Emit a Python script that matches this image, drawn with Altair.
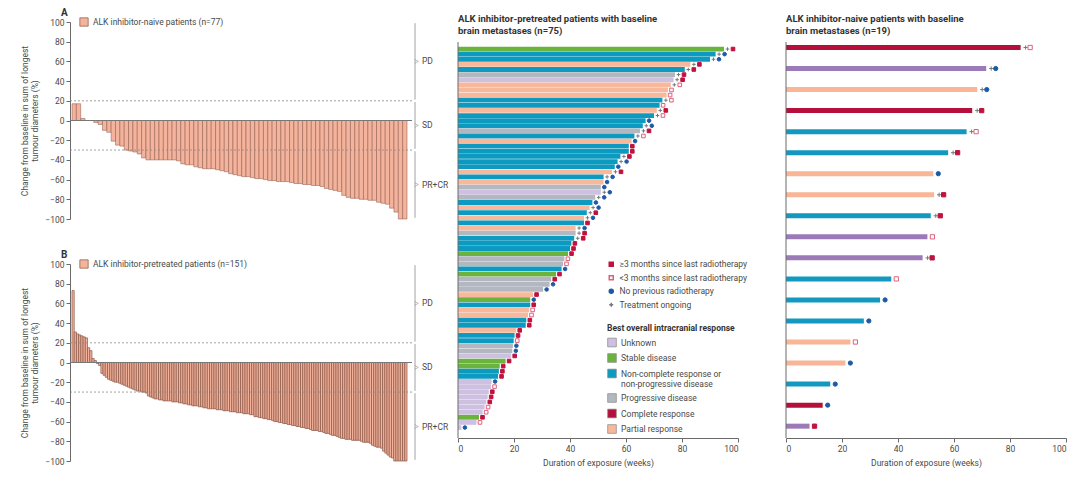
import altair as alt
import pandas as pd

FONT = "Roboto, Liberation Sans, sans-serif"

# ---------------- data ----------------
a_label = "ALK inhibitor-naive patients (n=77)"
a_values = [17, 17, 2, 0, 0, -2, -4, -10, -12, -21,
            -25, -26, -30, -31, -32, -34, -38,
            -40, -40, -40, -40, -40, -40, -40, -41,
            -44, -45, -45, -47,
            -48, -49, -49, -49, -50,
            -51, -52, -54, -55,
            -56, -57, -57,
            -58, -59, -59, -60,
            -61, -61,
            -62, -62, -62, -63,
            -64, -64,
            -65, -65, -66, -66, -67,
            -69, -70, -71, -72,
            -76, -78, -79, -79,
            -80, -80, -81, -81,
            -83, -84,
            -85, -89, -93, -100, -100]

b_label = "ALK inhibitor-pretreated patients (n=151)"
b_values = [73, 31, 29, 28, 27, 26, 25, 15, 12, 4,
            2, -1, -3, -11, -13, -15, -17, -18, -19, -20,
            -20, -21, -22, -23, -24, -25, -26, -27, -28, -29,
            -29, -30, -30, -31, -34, -35, -36, -37, -37, -38,
            -38, -39, -39, -39, -39, -40, -40, -40, -41, -41,
            -42, -42, -43, -43, -44, -44, -44, -45, -45, -46,
            -46, -47, -47, -47, -47, -48, -48, -48, -49, -49,
            -49, -50, -50, -50, -51, -51, -51, -52, -52, -52,
            -53, -53, -55, -55, -56, -56, -57, -57, -58, -58,
            -59, -60, -60, -61, -61, -62, -62, -63, -63, -64,
            -64, -65, -65, -66, -66, -67, -67, -68, -69, -69,
            -69, -70, -70, -71, -72, -72, -73, -74, -74, -75,
            -76, -77, -77, -78, -78, -78, -79, -79, -79, -79,
            -80, -81, -81, -81, -82, -84, -85, -86, -86, -87,
            -90, -92, -94, -96, -97, -100, -100, -100, -100, -100, -100]

zone_names = ["PD", "SD", "PR+CR"]
zone_top = [100, 20, -30]
zone_bottom = [20, -30, -100]
thresholds = [20, -30]
baseline = [0]
y_ticks = [-100, -80, -60, -40, -20, 0, 20, 40, 60, 80, 100]

mid_title = ["ALK inhibitor-pretreated patients with baseline", "brain metastases (n=75)"]
mid_dur = [95, 92, 90, 83, 81, 77.5, 77, 76, 75, 74.5,
           73, 72, 71, 70, 67, 66, 65, 63, 62, 61,
           61, 58, 57, 56, 55, 52, 52, 51, 51, 49,
           48, 47, 46, 45, 45, 42, 42, 41.5, 40.5, 40,
           39.3, 38, 37.5, 37, 35, 33.3, 32.7, 30.4, 26.8, 25.8,
           25.8, 25.4, 25, 24.4, 24.2, 20.8, 20.2, 19.9, 19.6, 19.4,
           19, 17, 14.9, 14.6, 14.3, 12, 11.8, 11, 10.6, 10.1,
           9.5, 8.8, 7.5, 6.6, 1.2]
mid_resp = ["SD", "NC", "NC", "PR", "NC", "PD", "U", "PR", "PR", "PR",
            "NC", "NC", "PR", "NC", "NC", "NC", "PD", "NC", "PR", "NC",
            "NC", "NC", "NC", "NC", "PR", "NC", "PR", "PD", "U", "PD",
            "NC", "PR", "NC", "PR", "NC", "PR", "PD", "NC", "NC", "NC",
            "SD", "PD", "PD", "NC", "SD", "PD", "PD", "PD", "PR", "SD",
            "NC", "PR", "PR", "NC", "NC", "PR", "NC", "NC", "PD", "PD",
            "U", "SD", "SD", "NC", "NC", "U", "U", "U", "U", "U",
            "U", "U", "SD", "U", "U"]
mid_mark = ["R3", "N", "N", "R3", "R3", "R3", "R3", "O", "O", "O",
            "O", "O", "R3", "O", "N", "N", "R3", "O", "N", "R3",
            "R3", "R3", "N", "N", "R3", "N", "N", "N", "N", "N",
            "N", "N", "R3", "N", "R3", "N", "R3", "R3", "R3", "R3",
            "R3", "O", "O", "N", "R3", "R3", "N", "N", "R3", "N",
            "R3", "O", "O", "R3", "R3", "R3", "R3", "O", "N", "N",
            "R3", "R3", "R3", "R3", "R3", "N", "O", "R3", "R3", "R3",
            "O", "O", "R3", "O", "N"]
mid_ongoing = [1, 1, 1, 1, 1, 1, 1, 1, 0, 0,
               1, 0, 1, 1, 0, 1, 1, 1, 0, 0,
               0, 1, 1, 0, 1, 1, 0, 0, 1, 1,
               0, 1, 1, 1, 0, 1, 1, 1, 0, 0,
               0, 0, 0, 0, 0, 0, 0, 0, 0, 0,
               0, 0, 0, 0, 0, 0, 0, 0, 0, 0,
               0, 0, 0, 0, 0, 0, 0, 0, 0, 0,
               0, 0, 0, 0, 0]

right_title = ["ALK inhibitor-naive patients with baseline", "brain metastases (n=19)"]
right_dur = [83.8, 71.5, 68.3, 66.5, 64.5, 57.9, 52.6, 52.9, 51.7, 50.5,
             48.8, 37.6, 33.6, 27.8, 23, 21.2, 15.8, 13.1, 8.4]
right_resp = ["CR", "U", "PR", "CR", "NC", "NC", "PR", "PR", "NC", "U",
              "U", "NC", "NC", "NC", "PR", "PR", "NC", "CR", "U"]
right_mark = ["O", "N", "N", "R3", "O", "R3", "N", "R3", "R3", "O",
              "R3", "O", "N", "N", "O", "N", "N", "N", "R3"]
right_ongoing = [1, 1, 1, 1, 1, 1, 0, 1, 1, 0,
                 1, 0, 0, 0, 0, 0, 0, 0, 0]

resp_codes = ["U", "SD", "NC", "PD", "CR", "PR"]
resp_labels = ["Unknown", "Stable disease",
               "Non-complete response or non-progressive disease",
               "Progressive disease", "Complete response", "Partial response"]
mark_codes = ["R3", "O", "N", "T"]
mark_labels = ["≥3 months since last radiotherapy", "<3 months since last radiotherapy",
               "No previous radiotherapy", "Treatment ongoing"]
x_ticks = list(range(0, 101, 10))

# ---------------- styles ----------------
TXT = "#4a4a4a"
AX = "#6a6a6a"
SALMON = "#f4b39c"
EDGE = "#8a5444"
MID_COLORS = ["#cdc0e0", "#6ab43e", "#0c9ac1", "#b3b7bf", "#b4103b", "#f7b89c"]
RIGHT_COLORS = ["#9c7ab8", "#6ab43e", "#1399c0", "#b3b7bf", "#b4103b", "#f8b697"]
MK_FILL = ["#c0123e", "white", "#1c5aa6", "#777777"]
MK_STROKE = ["#c0123e", "#e0607a", "#1c5aa6", "#777777"]
MK_SHAPE = ["square", "square", "circle", "M-1,0H1M0,-1V1"]

RESP = dict(zip(resp_codes, resp_labels))
MARK = dict(zip(mark_codes, mark_labels))

W_L, H_L = 345, 197
W_R, H_R = 280, 416
AXIS_TOP = 20  # pixel offset where the duration panels' vertical axis line begins

YAX = alt.Axis(
    values=y_ticks, title=["Change  from baseline in sum of longest", "tumour diameters (%)"],
    titleFontSize=8.5, titleFontWeight="normal", titleColor=TXT, titlePadding=5,
    labelFontSize=8.5, labelColor=TXT, labelOverlap=False, labelSeparation=0,
    tickCount=11, tickSize=4, tickColor=AX, domainColor=AX, grid=False)


def waterfall(values, label, letter, edge_w):
    n = len(values)
    df = pd.DataFrame({"idx": list(range(1, n + 1)), "val": values})
    df["grp"] = label
    per = 335.0 / n
    xs = alt.Scale(domain=[-2.0 / per, (W_L - 2.0) / per], nice=False, zero=False)
    ys = alt.Scale(domain=[-100, 100], nice=False)

    bars = alt.Chart(df).mark_bar(stroke=EDGE, strokeWidth=edge_w).transform_calculate(
        x0="datum.idx - 1", x1="datum.idx"
    ).encode(
        x=alt.X("x0:Q", scale=xs, axis=None),
        x2="x1:Q",
        y=alt.Y("val:Q", scale=ys, axis=YAX),
        y2=alt.datum(0),
        color=alt.Color("grp:N", scale=alt.Scale(domain=[label], range=[SALMON]),
                        legend=alt.Legend(orient="none", legendX=9, legendY=-5, title=None,
                                          symbolType="square", symbolSize=70, symbolStrokeColor=EDGE,
                                          symbolStrokeWidth=0.7, labelFontSize=8.5, labelColor=TXT,
                                          padding=0)),
    )

    tdf = pd.DataFrame({"t": thresholds})
    dashed = alt.Chart(tdf).mark_rule(color="#8a8a8a", strokeDash=[2, 2], strokeWidth=0.8).encode(
        y=alt.Y("t:Q", axis=YAX), x=alt.value(0), x2=alt.value(W_L - 3))
    zero = alt.Chart(pd.DataFrame({"z": baseline})).mark_rule(color="#777777", strokeWidth=1).encode(
        y=alt.Y("z:Q", axis=YAX), x=alt.value(0), x2=alt.value(W_L - 3))

    zdf = pd.DataFrame({"name": zone_names, "top": zone_top, "bot": zone_bottom})
    zbase = alt.Chart(zdf).transform_calculate(
        mid="(datum.top + datum.bot) / 2", t2="datum.top - 1.2", b2="datum.bot + 1.2")
    brace = zbase.mark_rule(color="#8a8a8a", strokeWidth=0.8).encode(
        x=alt.value(W_L), y=alt.Y("t2:Q", axis=YAX), y2="b2:Q")
    tip = zbase.mark_point(shape="M-1,-1L1,0L-1,1", filled=False, size=14, color="#8a8a8a",
                           strokeWidth=0.8, xOffset=1.5).encode(
        x=alt.value(W_L), y=alt.Y("mid:Q", axis=YAX))
    names = zbase.mark_text(align="left", baseline="middle", fontSize=8.5, color=TXT).encode(
        x=alt.value(W_L + 7), y=alt.Y("mid:Q", axis=YAX), text="name:N")

    return alt.layer(bars, dashed, zero, brace, tip, names).properties(
        width=W_L, height=H_L,
        title=alt.TitleParams(letter, anchor="start", frame="group", fontSize=10,
                              fontWeight="bold", color="#333333", dx=-9, offset=-1))


def timeline(dur, resp, mark, ongoing, colors, title, thin, show_legends):
    n = len(dur)
    df = pd.DataFrame({"row": list(range(1, n + 1)), "dur": dur,
                       "resp": [RESP[r] for r in resp]})
    rows = []
    for r, d, m, o in zip(range(1, n + 1), dur, mark, ongoing):
        rows.append({"row": r, "dur": d, "mk": MARK[m], "slot": "after" if o else "near"})
        if o:
            rows.append({"row": r, "dur": d, "mk": MARK["T"], "slot": "near"})
    mdf = pd.DataFrame(rows)

    xs = alt.Scale(domain=[0, 100], nice=False)
    xaxis = alt.Axis(values=x_ticks, title="Duration of exposure (weeks)", titleFontSize=8.5,
                     titleFontWeight="normal", titleColor=TXT, titlePadding=6,
                     labelFontSize=8.5, labelColor=TXT, tickSize=4, tickColor=AX,
                     domainColor=AX, grid=False)
    if thin:
        ys = alt.Scale(domain=[0.026, n + 0.325], reverse=True, nice=False, zero=False)
        bar_size = 5
        msize = 18
        near, after = 5, 9.5
    else:
        ys = alt.Scale(domain=[-3.31, n + 1.07], reverse=True, nice=False, zero=False)
        bar_size = 4.8
        msize = 13
        near, after = 3.5, 9
    yenc = alt.Y("row:Q", scale=ys, axis=None)

    if show_legends:
        resp_leg = alt.Legend(
            orient="none", legendX=149, legendY=302, title="Best overall intracranial response",
            titleFontSize=8.5, titleFontWeight="bold", titleColor="#333333", titlePadding=5,
            symbolType="square", symbolSize=75, symbolStrokeColor="#888888",
            symbolStrokeWidth=0.7, labelFontSize=8.5, labelColor=TXT, rowPadding=3.5,
            labelExpr="datum.label == 'Non-complete response or non-progressive disease' ? "
                      "['Non-complete response or', 'non-progressive disease'] : datum.label")
        mk_leg = alt.Legend(orient="none", legendX=149, legendY=238, title=None,
                            symbolSize=16, labelFontSize=8.5, labelColor=TXT, rowPadding=2.5)
    else:
        resp_leg = None
        mk_leg = None

    bars = alt.Chart(df).mark_bar(orient="horizontal", size=bar_size).encode(
        x=alt.X("dur:Q", scale=xs, axis=xaxis), y=yenc,
        color=alt.Color("resp:N", scale=alt.Scale(domain=resp_labels, range=colors), legend=resp_leg))

    def mk_enc():
        return dict(
            x=alt.X("dur:Q"), y=yenc,
            shape=alt.Shape("mk:N", scale=alt.Scale(domain=mark_labels, range=MK_SHAPE), legend=mk_leg),
            fill=alt.Fill("mk:N", scale=alt.Scale(domain=mark_labels, range=MK_FILL), legend=mk_leg),
            stroke=alt.Stroke("mk:N", scale=alt.Scale(domain=mark_labels, range=MK_STROKE), legend=mk_leg),
        )

    m_near = alt.Chart(mdf).transform_filter("datum.slot == 'near'").mark_point(
        size=msize, strokeWidth=1, opacity=1, xOffset=near).encode(**mk_enc())
    m_after = alt.Chart(mdf).transform_filter("datum.slot == 'after'").mark_point(
        size=msize, strokeWidth=1, opacity=1, xOffset=after).encode(**mk_enc())

    axis_line = alt.Chart(pd.DataFrame({"k": [0]})).mark_rule(color=AX, strokeWidth=1).encode(
        x=alt.value(0), y=alt.value(AXIS_TOP), y2=alt.value(H_R))

    return alt.layer(bars, m_near, m_after, axis_line).properties(
        width=W_R, height=H_R,
        title=alt.TitleParams(title, anchor="start", frame="group", fontSize=9.5,
                              fontWeight="bold", color="#333333", offset=-13))


left = alt.vconcat(waterfall(a_values, a_label, "A", 0.5), waterfall(b_values, b_label, "B", 0.7),
                   spacing=26).resolve_scale(color="independent", x="independent", y="independent")
mid = timeline(mid_dur, mid_resp, mid_mark, mid_ongoing, MID_COLORS, mid_title, False, True)
right = timeline(right_dur, right_resp, right_mark, right_ongoing, RIGHT_COLORS, right_title, True, False)

RES = dict(color="independent", fill="independent", stroke="independent", shape="independent",
           x="independent", y="independent")
inner = alt.concat(left, mid, columns=2, align="none", spacing=8).resolve_scale(**RES)
chart = alt.concat(inner, right, columns=2, align="none", spacing=37).resolve_scale(**RES).configure(
    font=FONT, padding={"left": 12, "top": 0, "right": 4, "bottom": 2}, background="white"
).configure_view(stroke=None).configure_axisY(labelOverlap=False)

chart.save("out.html", embed_options={"renderer": "svg", "actions": False})
